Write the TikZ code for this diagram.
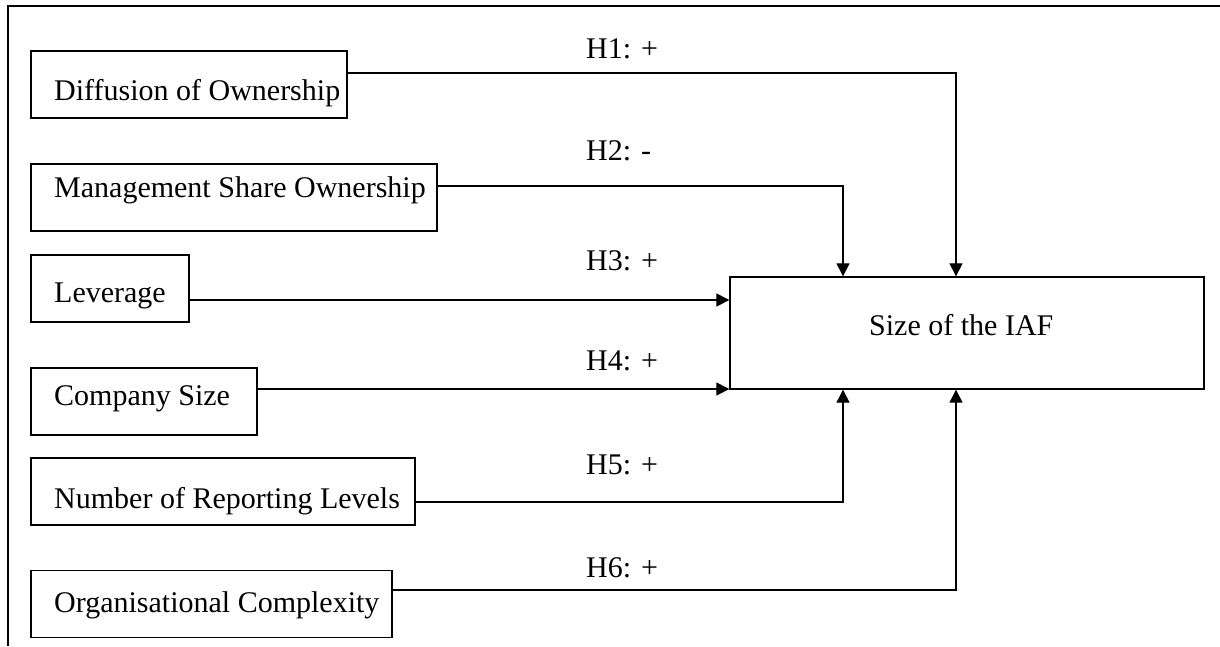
\documentclass[tikz,border=0pt]{standalone}
\usepackage{fontspec}
\setmainfont{Liberation Serif}
\usetikzlibrary{arrows.meta}
\begin{document}
\begin{tikzpicture}[x=1pt,y=-1pt,
  box/.style={draw, line width=1.1pt, inner sep=0pt, minimum height=67pt},
  txt/.style={inner sep=0pt, anchor=base west, font=\fontsize{30}{36}\selectfont},
  conn/.style={line width=1.1pt},
  arr/.style={line width=1.1pt, -{Triangle[length=13pt,width=13pt]}}]
\useasboundingbox (0,0) rectangle (1220,646);
% frame (top and left only)
\coordinate (fl) at (8,646);
\coordinate (fc) at (8,6);
\coordinate (fr) at (1220,6);
\draw[line width=1.5pt] (fl) -- (fc) -- (fr);
% boxes
\node[box, minimum width=316pt] (dif) at (189,84.5) {};
\node[box, minimum width=406pt] (man) at (234,197.5) {};
\node[box, minimum width=158pt] (lev) at (110,288.5) {};
\node[box, minimum width=226pt] (com) at (144,401.5) {};
\node[box, minimum width=384pt] (num) at (223,491.5) {};
\node[box, minimum width=361pt] (org) at (211.5,604) {};
\node[box, line width=1.3pt, minimum width=474pt, minimum height=112pt] (iaf) at (967,333) {};
% box texts
\node[txt] (difT) at (54,100) {Diffusion of Ownership};
\node[txt] (manT) at (54,197) {Management Share Ownership};
\node[txt] (levT) at (54,302) {Leverage};
\node[txt] (comT) at (54,405) {Company Size};
\node[txt] (numT) at (54,508) {Number of Reporting Levels};
\node[txt] (orgT) at (54,612) {Organisational Complexity};
\node[txt] (iafT) at (869,335) {Size of the IAF};
% connectors
\draw[arr] ([yshift=11.5pt]dif.east) -| ([xshift=-11pt]iaf.north);
\draw[arr] ([yshift=11.5pt]man.east) -| ([xshift=-124pt]iaf.north);
\draw[arr] ([yshift=-11.5pt]lev.east) -- ([yshift=-11.5pt]lev.east -| iaf.west);
\draw[arr] ([yshift=12.5pt]com.east) -- ([yshift=12.5pt]com.east -| iaf.west);
\draw[arr] ([yshift=-10.5pt]num.east) -| ([xshift=-124pt]iaf.south);
\draw[arr] ([yshift=14pt]org.east) -| ([xshift=-11pt]iaf.south);
% hypothesis labels
\node[txt] (h1) at (586,58) {H1: +};
\node[txt] (h2) at (586,160) {H2: -};
\node[txt] (h3) at (586,270) {H3: +};
\node[txt] (h4) at (586,370) {H4: +};
\node[txt] (h5) at (586,474) {H5: +};
\node[txt] (h6) at (586,577) {H6: +};
\end{tikzpicture}
\end{document}
